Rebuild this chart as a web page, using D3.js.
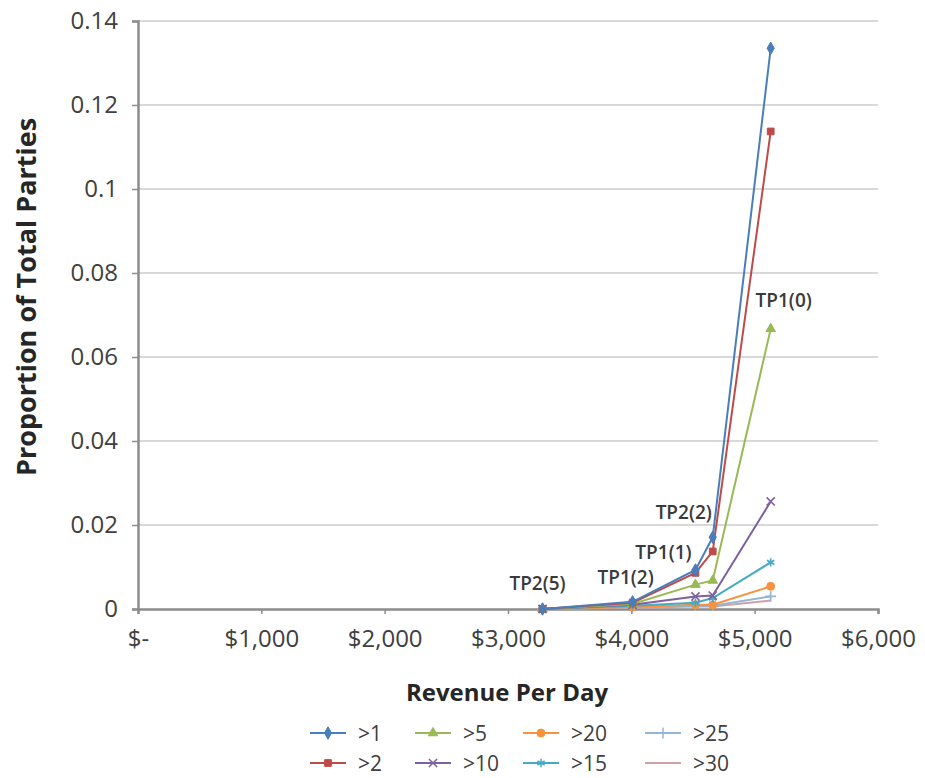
<!DOCTYPE html>
<html>
<head>
<meta charset="utf-8">
<script src="https://cdn.jsdelivr.net/npm/d3@7"></script>
<style>
  body { margin: 0; background: #fff; }
  svg { display: block; font-family: "Open Sans", sans-serif; }
</style>
</head>
<body>
<svg id="chart" width="925" height="778"></svg>
<script>
// ---- data ----
const revenue = [3280, 4010, 4520, 4660, 5130];
const pointLabels = ["TP2(5)", "TP1(2)", "TP1(1)", "TP2(2)", "TP1(0)"];
const seriesNames = [">1", ">2", ">5", ">10", ">15", ">20", ">25", ">30"];
const s1  = [0, 0.0017, 0.0093, 0.0171, 0.1335];
const s2  = [0, 0.0015, 0.0086, 0.0137, 0.1137];
const s5  = [0, 0.0012, 0.0058, 0.0068, 0.0667];
const s10 = [0, 0.0010, 0.0030, 0.0032, 0.0256];
const s15 = [0, 0.0008, 0.0015, 0.0026, 0.0111];
const s20 = [0, 0.0005, 0.0010, 0.0010, 0.0054];
const s25 = [0, 0.0004, 0.0008, 0.0008, 0.0030];
const s30 = [0, 0.0003, 0.0006, 0.0006, 0.0020];
const seriesValues = [s1, s2, s5, s10, s15, s20, s25, s30];
const legendOrder = [">1", ">2", ">5", ">10", ">20", ">15", ">25", ">30"];
const xTicks = [0, 1000, 2000, 3000, 4000, 5000, 6000];
const xTickLabels = ["$-", "$1,000", "$2,000", "$3,000", "$4,000", "$5,000", "$6,000"];
const yTicks = [0, 0.02, 0.04, 0.06, 0.08, 0.1, 0.12, 0.14];
const yTickLabels = ["0", "0.02", "0.04", "0.06", "0.08", "0.1", "0.12", "0.14"];

// ---- styles ----
const colors = ["#4A7EBB", "#BE4B48", "#98B954", "#7D60A0", "#46AAC5", "#F69240", "#93B7D3", "#D0A0A8"];
const symbols = [d3.symbolDiamond, d3.symbolSquare, d3.symbolTriangle, d3.symbolTimes,
                 d3.symbolAsterisk, d3.symbolCircle, d3.symbolPlus, null];
const filled = [true, true, true, false, false, true, false, false];
const symSize = [45, 45, 40, 45, 50, 50, 40, 40];
const labelOffsets = [[-5, -26], [-7, -25], [-32, -21], [-29, -25], [13, -29]];

const svg = d3.select("#chart");
const x = d3.scaleLinear().domain([0, 6000]).range([138, 878]);
const y = d3.scaleLinear().domain([0, 0.14]).range([609, 21]);

// gridlines
svg.append("g").selectAll("line").data(yTicks.filter(d => d > 0)).join("line")
  .attr("x1", x(0)).attr("x2", x(6000))
  .attr("y1", d => y(d)).attr("y2", d => y(d))
  .attr("stroke", "#d9d9d9").attr("stroke-width", 2);

// y axis
const yAxis = svg.append("g").attr("transform", `translate(${x(0)},0)`)
  .call(d3.axisLeft(y).tickValues(yTicks).tickFormat((d, i) => yTickLabels[i]).tickSize(6).tickPadding(14));
yAxis.select(".domain").attr("stroke", "#8c8c8c").attr("stroke-width", 2.5);
yAxis.selectAll(".tick line").attr("stroke", "#8c8c8c").attr("stroke-width", 1.5);
yAxis.selectAll(".tick text").attr("font-size", 24).attr("fill", "#404040")
  .attr("font-family", "Open Sans, sans-serif");

// x axis
const xAxis = svg.append("g").attr("transform", `translate(0,${y(0)})`)
  .call(d3.axisBottom(x).tickValues(xTicks).tickFormat((d, i) => xTickLabels[i]).tickSize(5).tickPadding(16));
xAxis.select(".domain").attr("stroke", "#8c8c8c").attr("stroke-width", 2.5);
xAxis.selectAll(".tick line").attr("stroke", "#8c8c8c").attr("stroke-width", 1.5);
xAxis.selectAll(".tick text").attr("font-size", 24).attr("fill", "#404040")
  .attr("font-family", "Open Sans, sans-serif");

// axis titles
svg.append("text").attr("x", 507).attr("y", 701).attr("text-anchor", "middle")
  .attr("font-size", 24).attr("font-weight", "bold").attr("fill", "#262626")
  .text("Revenue Per Day");
svg.append("text").attr("transform", "translate(36,297) rotate(-90)").attr("text-anchor", "middle")
  .attr("font-size", 27).attr("font-weight", "bold").attr("fill", "#262626")
  .text("Proportion of Total Parties");

// series (draw from last to first so >1 is on top)
const line = d3.line().x((d, i) => x(revenue[i])).y(d => y(d));
const order = d3.range(seriesValues.length).reverse();
order.forEach(si => {
  const g = svg.append("g");
  g.append("path").datum(seriesValues[si]).attr("d", line)
    .attr("fill", "none").attr("stroke", colors[si]).attr("stroke-width", 2);
  if (symbols[si]) {
    g.selectAll("path.m").data(seriesValues[si]).join("path").attr("class", "m")
      .attr("transform", (d, i) => `translate(${x(revenue[i])},${y(d)})`)
      .attr("d", d3.symbol().type(symbols[si]).size(symSize[si]))
      .attr("fill", filled[si] ? colors[si] : "none")
      .attr("stroke", colors[si]).attr("stroke-width", filled[si] ? 1 : 1.6);
  }
});

// point annotations
const anchorVals = [s1[0], s1[1], s2[2], s1[3], s5[4]];
svg.append("g").selectAll("text").data(pointLabels).join("text")
  .attr("x", (d, i) => x(revenue[i]) + labelOffsets[i][0])
  .attr("y", (d, i) => y(anchorVals[i]) + labelOffsets[i][1] + 7)
  .attr("text-anchor", "middle").attr("font-size", 19).attr("font-weight", 600)
  .attr("fill", "#3a3a3a")
  .text(d => d);

// legend
const legX = [310, 415, 523, 645];
const legY = [733, 763];
legendOrder.forEach((name, k) => {
  const si = seriesNames.indexOf(name);
  const col = Math.floor(k / 2), row = k % 2;
  const g = svg.append("g").attr("transform", `translate(${legX[col]},${legY[row]})`);
  g.append("line").attr("x1", 0).attr("x2", 36).attr("y1", 0).attr("y2", 0)
    .attr("stroke", colors[si]).attr("stroke-width", 2.2);
  if (symbols[si]) {
    g.append("path").attr("transform", "translate(18,0)")
      .attr("d", d3.symbol().type(symbols[si]).size(symSize[si]))
      .attr("fill", filled[si] ? colors[si] : "none")
      .attr("stroke", colors[si]).attr("stroke-width", filled[si] ? 1 : 1.5);
  }
  g.append("text").attr("x", 48).attr("y", 8).attr("font-size", 21).attr("fill", "#404040")
    .text(name);
});
</script>
</body>
</html>
